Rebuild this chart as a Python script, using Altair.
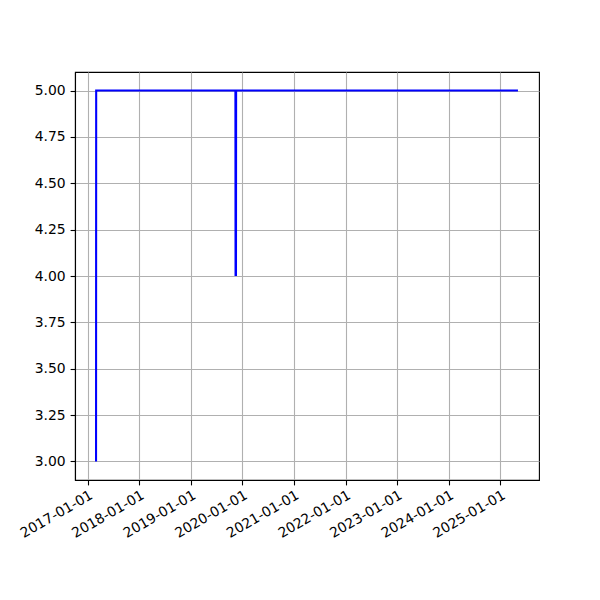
import altair as alt
import pandas as pd

dates = ["2017-03-01", "2017-03-02", "2019-11-13", "2019-11-14", "2019-11-15",
         "2019-11-17", "2019-11-18", "2025-05-06"]
values = [3.0, 5.0, 5.0, 4.0, 5.0, 4.0, 5.0, 5.0]
tick_years = list(range(2017, 2026))
y_ticks = [3.0, 3.25, 3.5, 3.75, 4.0, 4.25, 4.5, 4.75, 5.0]

df = pd.DataFrame({"date": dates, "value": values, "order": list(range(len(dates)))})

font = "DejaVu Sans"
fs = 13.9

x_axis = alt.Axis(
    values=[alt.DateTime(year=y, month=1, date=1, utc=True) for y in tick_years],
    labelExpr="utcFormat(datum.value, '%Y-%m-%d')", title=None,
    labelAngle=-30, labelAlign="right", labelBaseline="top",
    labelFont=font, labelFontSize=fs, labelColor="black",
    tickColor="black", tickSize=4.9, tickWidth=1.1, labelPadding=3,
    domainColor="black", domainWidth=1.1,
    grid=True, gridColor="#b0b0b0", gridWidth=1.1, labelOverlap=False, labelFlush=False,
)
y_axis = alt.Axis(
    values=y_ticks, format=".2f", title=None,
    labelFont=font, labelFontSize=fs, labelColor="black",
    tickColor="black", tickSize=4.9, tickWidth=1.1, labelPadding=4.9,
    domainColor="black", domainWidth=1.1,
    grid=True, gridColor="#b0b0b0", gridWidth=1.1, labelOverlap=False,
)

chart = alt.Chart(df).mark_line(color="blue", strokeWidth=2.08, clip=True).encode(
    x=alt.X("date:T", axis=x_axis,
            scale=alt.Scale(type="utc",
                            domain=[alt.DateTime(year=2016, month=10, date=3, utc=True),
                                    alt.DateTime(year=2025, month=10, date=2, utc=True)])),
    y=alt.Y("value:Q", axis=y_axis, scale=alt.Scale(domain=[2.9, 5.1], nice=False, zero=False)),
    order="order:Q",
).properties(
    width=464, height=408,
    autosize=alt.AutoSizeParams(type="none"),
    padding={"left": 67, "top": 64, "right": 50, "bottom": 100},
).configure_view(stroke="black", strokeWidth=1.1)

chart.save("out.html", embed_options={"renderer": "svg", "actions": False})
